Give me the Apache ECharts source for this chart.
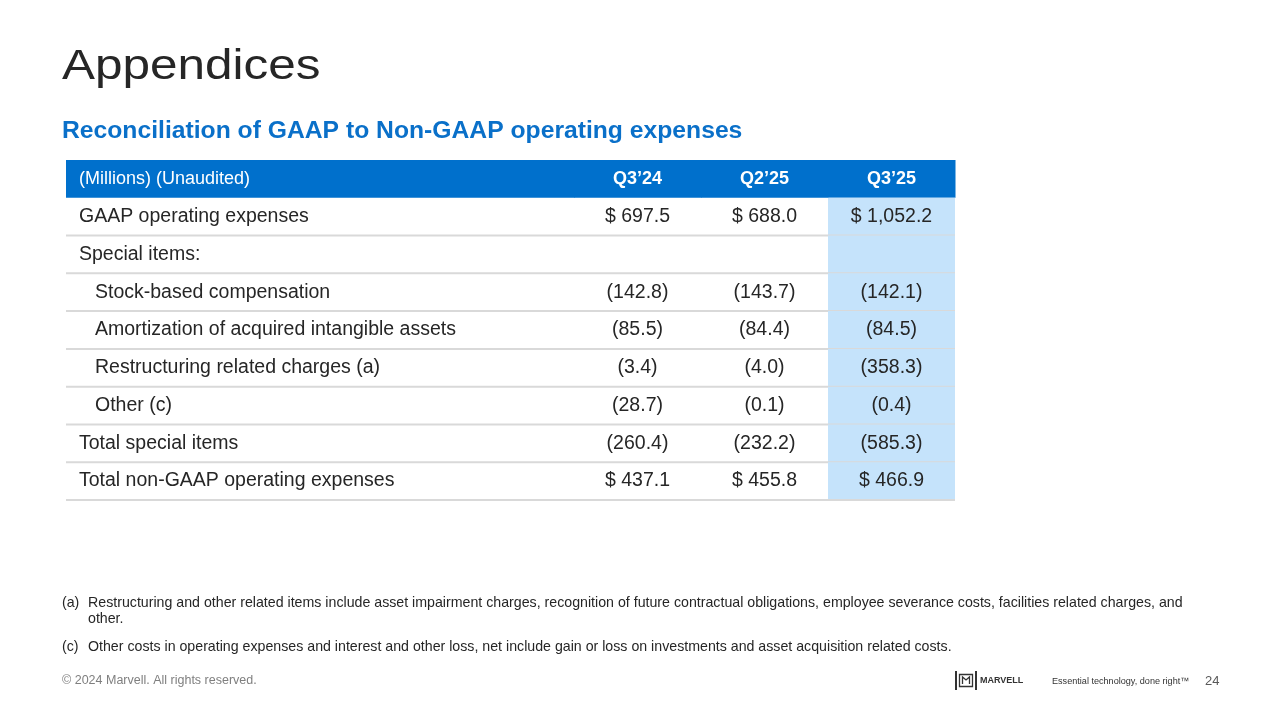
<!DOCTYPE html>
<html>
<head>
<meta charset="utf-8">
<script src="https://cdn.jsdelivr.net/npm/echarts@6/dist/echarts.min.js"></script>
<style>
  html, body { margin: 0; padding: 0; background: #ffffff; }
  #chart { width: 1280px; height: 720px; }
</style>
</head>
<body>
<div id="chart"></div>
<script>
// ---------- data ----------
const pageTitle = 'Appendices';
const tableTitle = 'Reconciliation of GAAP to Non-GAAP operating expenses';
const columnHeader = '(Millions) (Unaudited)';
const periods = ['Q3’24', 'Q2’25', 'Q3’25'];
const rowLabels = [
  'GAAP operating expenses',
  'Special items:',
  'Stock-based compensation',
  'Amortization of acquired intangible assets',
  'Restructuring related charges (a)',
  'Other (c)',
  'Total special items',
  'Total non-GAAP operating expenses'
];
const indentedRows = [false, false, true, true, true, true, false, false];
const dollarRows = [true, false, false, false, false, false, false, true];
const q3_24 = [697.5, null, -142.8, -85.5, -3.4, -28.7, -260.4, 437.1];
const q2_25 = [688.0, null, -143.7, -84.4, -4.0, -0.1, -232.2, 455.8];
const q3_25 = [1052.2, null, -142.1, -84.5, -358.3, -0.4, -585.3, 466.9];
const periodValues = [q3_24, q2_25, q3_25];
const footnoteA = ['(a)', 'Restructuring and other related items include asset impairment charges, recognition of future contractual obligations, employee severance costs, facilities related charges, and', 'other.'];
const footnoteC = ['(c)', 'Other costs in operating expenses and interest and other loss, net include gain or loss on investments and asset acquisition related costs.'];
const copyright = '© 2024 Marvell. All rights reserved.';
const brand = 'MARVELL';
const tagline = 'Essential technology, done right™';
const pageNumber = '24';

// ---------- styles ----------
const FONT = '"Liberation Sans", Arial, sans-serif';
const TEXT = '#262626';
const HEADER_BLUE = '#0070CC';
const TITLE_BLUE = '#0A70C9';
const HIGHLIGHT = '#C5E3FB';
const RULE = '#D9D9D9';
const CELL_FONT = '19.5px ' + FONT;
const NOTE_FONT = '14.2px ' + FONT;
const LABEL_SPAN = 4;

function fmt(v, dollar) {
  if (v === null || v === undefined) return '';
  const s = Math.abs(v).toLocaleString('en-US', { minimumFractionDigits: 1, maximumFractionDigits: 1 });
  if (v < 0) return '(' + s + ')';
  return dollar ? '$ ' + s : s;
}

function cellRect(api, x0, y0, span) {
  const p0 = api.coord([x0, y0]);
  const p1 = api.coord([x0 + span, y0 + 1]);
  return { x: p0[0], y: p0[1], width: p1[0] - p0[0], height: p1[1] - p0[1] };
}

const chart = echarts.init(document.getElementById('chart'), null, { renderer: 'canvas' });

const headerData = [[0, -1]].concat(periods.map((p, k) => [LABEL_SPAN + k, -1]));

const series = [];

// header row
series.push({
  type: 'custom',
  data: headerData,
  clip: false,
  renderItem: function (params, api) {
    const i = params.dataIndex;
    const span = i === 0 ? LABEL_SPAN : 1;
    const r = cellRect(api, api.value(0), api.value(1), span);
    const isLabel = i === 0;
    return {
      type: 'group',
      children: [
        { type: 'rect', shape: { x: r.x, y: r.y, width: r.width + 0.5, height: r.height }, style: { fill: HEADER_BLUE } },
        {
          type: 'text',
          style: {
            text: isLabel ? columnHeader : periods[i - 1],
            x: isLabel ? r.x + 13 : r.x + r.width / 2,
            y: r.y + r.height / 2,
            align: isLabel ? 'left' : 'center',
            verticalAlign: 'middle',
            font: (isLabel ? '' : 'bold ') + '18px ' + FONT,
            fill: '#ffffff'
          }
        }
      ]
    };
  }
});

// row label column
series.push({
  type: 'custom',
  data: rowLabels.map((l, i) => [0, i]),
  clip: false,
  renderItem: function (params, api) {
    const i = params.dataIndex;
    const r = cellRect(api, api.value(0), api.value(1), LABEL_SPAN);
    return {
      type: 'group',
      children: [
        { type: 'line', shape: { x1: r.x, y1: r.y + r.height, x2: r.x + r.width, y2: r.y + r.height }, style: { stroke: RULE, lineWidth: 2 } },
        {
          type: 'text',
          style: {
            text: rowLabels[i],
            x: r.x + 13 + (indentedRows[i] ? 16 : 0),
            y: r.y + r.height / 2,
            align: 'left',
            verticalAlign: 'middle',
            font: CELL_FONT,
            fill: TEXT
          }
        }
      ]
    };
  }
});

// period value columns
periodValues.forEach(function (vals, k) {
  const highlighted = k === periodValues.length - 1;
  series.push({
    type: 'custom',
    data: vals.map((v, i) => [LABEL_SPAN + k, i]),
    clip: false,
    renderItem: function (params, api) {
      const i = params.dataIndex;
      const r = cellRect(api, api.value(0), api.value(1), 1);
      const children = [];
      if (highlighted) {
        children.push({ type: 'rect', shape: { x: r.x, y: r.y, width: r.width, height: r.height + 0.5 }, style: { fill: HIGHLIGHT } });
      }
      children.push({ type: 'line', shape: { x1: r.x, y1: r.y + r.height, x2: r.x + r.width, y2: r.y + r.height }, style: { stroke: RULE, lineWidth: 2 } });
      children.push({
        type: 'text',
        style: {
          text: fmt(vals[i], dollarRows[i]),
          x: r.x + r.width / 2,
          y: r.y + r.height / 2,
          align: 'center',
          verticalAlign: 'middle',
          font: CELL_FONT,
          fill: TEXT
        }
      });
      return { type: 'group', children: children };
    }
  });
});

function txt(x, y, text, font, fill, extra) {
  return Object.assign({ type: 'text', x: x, y: y, silent: true, style: { text: text, font: font, fill: fill, verticalAlign: 'middle' } }, extra || {});
}

const graphics = [
  txt(62, 67, pageTitle, '43px ' + FONT, TEXT, { scaleX: 1.15 }),
  txt(62, 131, tableTitle, 'bold 24.7px ' + FONT, TITLE_BLUE),
  txt(62, 603, footnoteA[0], NOTE_FONT, TEXT),
  txt(88, 603, footnoteA[1], NOTE_FONT, TEXT),
  txt(88, 619, footnoteA[2], NOTE_FONT, TEXT),
  txt(62, 647, footnoteC[0], NOTE_FONT, TEXT),
  txt(88, 647, footnoteC[1], NOTE_FONT, TEXT),
  txt(62, 681, copyright, '12.5px ' + FONT, '#7F7F7F'),
  // logo mark
  { type: 'rect', shape: { x: 955, y: 671, width: 2, height: 19 }, style: { fill: '#333333' } },
  { type: 'rect', shape: { x: 975, y: 671, width: 2, height: 19 }, style: { fill: '#333333' } },
  { type: 'rect', shape: { x: 959.5, y: 674.5, width: 13, height: 12 }, style: { fill: 'none', stroke: '#333333', lineWidth: 1.3 } },
  { type: 'polyline', shape: { points: [[962.5, 684], [962.5, 677], [966, 680], [969.5, 677], [969.5, 684]] }, style: { fill: 'none', stroke: '#333333', lineWidth: 1.3 } },
  txt(980, 681, brand, 'bold 9px ' + FONT, '#333333'),
  txt(1052, 681, tagline, '9.1px ' + FONT, '#333333'),
  txt(1205, 681, pageNumber, '13px ' + FONT, '#595959')
];

chart.setOption({
  animation: false,
  backgroundColor: '#ffffff',
  grid: { left: 66, right: 325, top: 160, bottom: 220 },
  xAxis: { type: 'value', min: 0, max: 7, show: false },
  yAxis: { type: 'value', min: -1, max: 8, inverse: true, show: false },
  series: series,
  graphic: graphics
});
</script>
</body>
</html>
